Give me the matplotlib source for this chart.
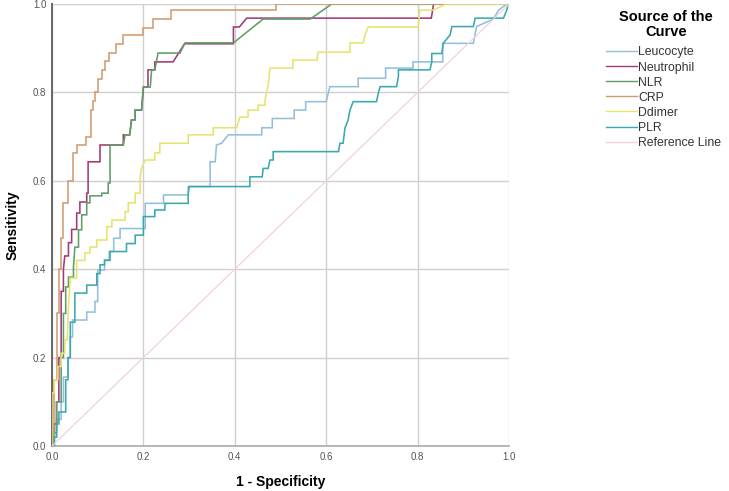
import matplotlib
matplotlib.use("Agg")
import matplotlib.pyplot as plt

# ---------------- data ----------------
series_names = ["Leucocyte", "Neutrophil", "NLR", "CRP", "Ddimer", "PLR", "Reference Line"]

leuco_fpr = [0, 0.005, 0.005, 0.01, 0.01, 0.02, 0.02, 0.025, 0.025, 0.035, 0.035, 0.04, 0.04, 0.045, 0.045,
             0.072, 0.072, 0.076, 0.076, 0.094, 0.094, 0.10, 0.10, 0.115, 0.115, 0.125, 0.125, 0.135, 0.135,
             0.149, 0.149, 0.204, 0.204, 0.244, 0.244, 0.298, 0.298, 0.346, 0.346, 0.357, 0.36, 0.371, 0.386,
             0.459, 0.459, 0.482, 0.482, 0.53, 0.53, 0.555, 0.555, 0.6, 0.608, 0.67, 0.67, 0.73, 0.73, 0.79,
             0.79, 0.855, 0.855, 0.922, 0.929, 0.966, 0.977, 0.995, 1.0]
leuco_tpr = [0, 0, 0.02, 0.02, 0.06, 0.06, 0.10, 0.10, 0.156, 0.156, 0.20, 0.20, 0.247, 0.247, 0.285,
             0.285, 0.285, 0.285, 0.303, 0.303, 0.327, 0.327, 0.398, 0.398, 0.421, 0.421, 0.44, 0.44, 0.47,
             0.47, 0.492, 0.492, 0.549, 0.549, 0.568, 0.568, 0.587, 0.587, 0.643, 0.643, 0.681, 0.685, 0.704,
             0.704, 0.72, 0.72, 0.741, 0.741, 0.76, 0.76, 0.779, 0.779, 0.813, 0.813, 0.832, 0.832, 0.855, 0.855,
             0.869, 0.869, 0.911, 0.911, 0.949, 0.966, 0.986, 1.0, 1.0]

neut_fpr = [0, 0.005, 0.005, 0.01, 0.01, 0.015, 0.015, 0.02, 0.02, 0.025, 0.025, 0.028, 0.036, 0.036, 0.043,
            0.043, 0.054, 0.054, 0.061, 0.061, 0.076, 0.076, 0.079, 0.079, 0.105, 0.105, 0.156, 0.156, 0.17,
            0.174, 0.182, 0.182, 0.196, 0.2, 0.21, 0.21, 0.225, 0.225, 0.265, 0.29, 0.397, 0.397, 0.41, 0.426,
            0.83, 0.835, 1.0]
neut_tpr = [0, 0, 0.05, 0.05, 0.10, 0.10, 0.20, 0.20, 0.35, 0.35, 0.40, 0.43, 0.43, 0.46, 0.46,
            0.49, 0.49, 0.527, 0.527, 0.552, 0.552, 0.572, 0.572, 0.643, 0.643, 0.681, 0.681, 0.704, 0.704,
            0.738, 0.738, 0.76, 0.76, 0.812, 0.812, 0.851, 0.851, 0.869, 0.869, 0.91, 0.91, 0.948, 0.948, 0.968,
            0.968, 1.0, 1.0]

nlr_fpr = [0, 0.005, 0.005, 0.01, 0.01, 0.02, 0.02, 0.025, 0.025, 0.03, 0.03, 0.036, 0.036, 0.047, 0.047,
           0.05, 0.058, 0.058, 0.065, 0.065, 0.076, 0.076, 0.083, 0.083, 0.109, 0.109, 0.123, 0.123, 0.127,
           0.127, 0.156, 0.16, 0.17, 0.174, 0.182, 0.182, 0.196, 0.2, 0.215, 0.218, 0.225, 0.232, 0.28, 0.291,
           0.397, 0.462, 0.565, 0.612, 1.0]
nlr_tpr = [0, 0, 0.03, 0.03, 0.10, 0.10, 0.20, 0.20, 0.30, 0.30, 0.36, 0.36, 0.382, 0.382, 0.405,
           0.45, 0.45, 0.489, 0.489, 0.523, 0.523, 0.55, 0.55, 0.566, 0.566, 0.572, 0.572, 0.595, 0.595,
           0.681, 0.681, 0.704, 0.704, 0.738, 0.738, 0.76, 0.76, 0.812, 0.812, 0.851, 0.851, 0.889, 0.889, 0.912,
           0.912, 0.966, 0.966, 1.0, 1.0]

crp_fpr = [0, 0.005, 0.005, 0.01, 0.01, 0.015, 0.015, 0.02, 0.02, 0.025, 0.025, 0.035, 0.035, 0.045, 0.045,
           0.055, 0.055, 0.075, 0.075, 0.085, 0.085, 0.09, 0.09, 0.095, 0.095, 0.10, 0.10, 0.11, 0.11, 0.115,
           0.115, 0.125, 0.125, 0.14, 0.14, 0.155, 0.155, 0.20, 0.20, 0.22, 0.22, 0.26, 0.26, 0.49, 0.49, 1.0]
crp_tpr = [0, 0, 0.15, 0.15, 0.30, 0.30, 0.40, 0.40, 0.47, 0.47, 0.55, 0.55, 0.60, 0.60, 0.663,
           0.663, 0.68, 0.68, 0.70, 0.70, 0.76, 0.76, 0.78, 0.78, 0.80, 0.80, 0.83, 0.83, 0.85, 0.85,
           0.87, 0.87, 0.89, 0.89, 0.91, 0.91, 0.93, 0.93, 0.946, 0.946, 0.965, 0.965, 0.986, 0.986, 1.0, 1.0]

ddim_fpr = [0, 0, 0.005, 0.005, 0.013, 0.013, 0.02, 0.02, 0.028, 0.028, 0.033, 0.036, 0.04, 0.054, 0.054,
            0.072, 0.072, 0.083, 0.083, 0.098, 0.098, 0.12, 0.12, 0.131, 0.131, 0.16, 0.16, 0.167, 0.167,
            0.182, 0.182, 0.193, 0.193, 0.196, 0.204, 0.225, 0.225, 0.236, 0.236, 0.298, 0.298, 0.353, 0.353,
            0.404, 0.411, 0.429, 0.429, 0.451, 0.451, 0.466, 0.466, 0.473, 0.477, 0.527, 0.527, 0.58, 0.582,
            0.652, 0.652, 0.681, 0.685, 0.692, 0.801, 0.805, 0.834, 0.862, 1.0]
ddim_tpr = [0, 0.12, 0.12, 0.15, 0.15, 0.18, 0.18, 0.21, 0.21, 0.24, 0.24, 0.314, 0.38, 0.38, 0.42,
            0.42, 0.437, 0.437, 0.45, 0.45, 0.466, 0.466, 0.496, 0.496, 0.511, 0.511, 0.53, 0.53, 0.55,
            0.55, 0.572, 0.572, 0.609, 0.629, 0.647, 0.647, 0.663, 0.663, 0.685, 0.685, 0.704, 0.704, 0.72,
            0.72, 0.744, 0.744, 0.76, 0.76, 0.771, 0.771, 0.783, 0.817, 0.855, 0.855, 0.873, 0.873, 0.891,
            0.891, 0.912, 0.912, 0.93, 0.948, 0.948, 0.986, 0.986, 1.0, 1.0]

plr_fpr = [0, 0.005, 0.005, 0.01, 0.01, 0.015, 0.015, 0.03, 0.03, 0.035, 0.035, 0.04, 0.04, 0.05, 0.05,
           0.076, 0.076, 0.098, 0.098, 0.105, 0.105, 0.115, 0.115, 0.127, 0.127, 0.163, 0.163, 0.182, 0.182,
           0.2, 0.2, 0.225, 0.225, 0.247, 0.247, 0.298, 0.298, 0.30, 0.433, 0.433, 0.46, 0.462, 0.473, 0.477,
           0.484, 0.484, 0.627, 0.63, 0.637, 0.641, 0.648, 0.652, 0.659, 0.71, 0.714, 0.718, 0.754, 0.758,
           0.758, 0.827, 0.831, 0.831, 0.853, 0.856, 0.871, 0.875, 0.922, 0.926, 0.988, 0.995, 0.998, 1.0]
plr_tpr = [0, 0, 0.02, 0.02, 0.05, 0.05, 0.077, 0.077, 0.15, 0.15, 0.20, 0.20, 0.28, 0.28, 0.346,
           0.346, 0.364, 0.364, 0.39, 0.39, 0.41, 0.41, 0.42, 0.42, 0.44, 0.44, 0.458, 0.458, 0.477,
           0.477, 0.519, 0.519, 0.534, 0.534, 0.549, 0.549, 0.568, 0.587, 0.587, 0.609, 0.609, 0.628, 0.628, 0.647,
           0.647, 0.666, 0.666, 0.685, 0.685, 0.719, 0.738, 0.76, 0.779, 0.779, 0.798, 0.813, 0.813, 0.836,
           0.851, 0.851, 0.869, 0.888, 0.888, 0.911, 0.93, 0.949, 0.949, 0.968, 0.968, 0.986, 1.0, 1.0]

ref_fpr = [0.0, 1.0]
ref_tpr = [0.0, 1.0]

x_ticks = [0.0, 0.2, 0.4, 0.6, 0.8, 1.0]
y_ticks = [0.0, 0.2, 0.4, 0.6, 0.8, 1.0]
tick_labels = ["0.0", "0.2", "0.4", "0.6", "0.8", "1.0"]

colors = {
    "Leucocyte": "#93bfdc",
    "Neutrophil": "#a23a74",
    "NLR": "#5f9e68",
    "CRP": "#d29a70",
    "Ddimer": "#e6e46e",
    "PLR": "#3aa9ad",
    "Reference Line": "#f3cfe0",
}

# ---------------- figure ----------------
plt.rcParams["font.family"] = ["Liberation Sans", "DejaVu Sans"]
fig = plt.figure(figsize=(7.29, 4.91), dpi=100)
ax = fig.add_axes([52 / 729, 45 / 491, 457 / 729, 442 / 491])

curves = [
    ("Leucocyte", leuco_fpr, leuco_tpr),
    ("Neutrophil", neut_fpr, neut_tpr),
    ("NLR", nlr_fpr, nlr_tpr),
    ("CRP", crp_fpr, crp_tpr),
    ("Ddimer", ddim_fpr, ddim_tpr),
    ("PLR", plr_fpr, plr_tpr),
    ("Reference Line", ref_fpr, ref_tpr),
]

for name, fx, ty in curves:
    lw = 0.9 if name == "Reference Line" else 1.15
    ax.plot(fx, ty, color=colors[name], lw=lw, label=name, solid_joinstyle="miter", zorder=3)

ax.set_xlim(0, 1)
ax.set_ylim(0, 1)
ax.set_xticks(x_ticks)
ax.set_xticklabels(tick_labels)
ax.set_yticks(y_ticks)
ax.set_yticklabels(tick_labels)
ax.tick_params(length=0, labelsize=7, colors="#555555", pad=4)
ax.grid(True, color="#cfcfcf", lw=1.0, zorder=0)
for s in ["top", "right"]:
    ax.spines[s].set_visible(False)
ax.spines["left"].set_color("#666666")
ax.spines["left"].set_linewidth(1.4)
ax.spines["bottom"].set_color("#aaaaaa")
ax.spines["bottom"].set_linewidth(1.2)

ax.set_xlabel("1 - Specificity", fontsize=10, fontweight="bold", va="center")
ax.xaxis.set_label_coords(0.5, (446 - 482) / 442)
ax.set_ylabel("Sensitivity", fontsize=10, fontweight="bold", va="center")
ax.yaxis.set_label_coords((13 - 52) / 457, 0.5)

# legend title as its own text, legend entries below
fig.text(666 / 729, 1 - 24.5 / 491, "Source of the\nCurve", ha="center", va="center",
         fontsize=10.5, fontweight="bold", linespacing=1.05, multialignment="center")
leg = fig.legend(loc="upper left", bbox_to_anchor=(606 / 729, 1 - 46.5 / 491), frameon=False,
                 fontsize=8.8, handlelength=2.5, handletextpad=0.15,
                 labelspacing=0.25, borderaxespad=0, borderpad=0)
for line in leg.get_lines():
    line.set_linewidth(1.0)
for t in leg.get_texts():
    t.set_color("#333333")

fig.savefig("out.png", dpi=100)
